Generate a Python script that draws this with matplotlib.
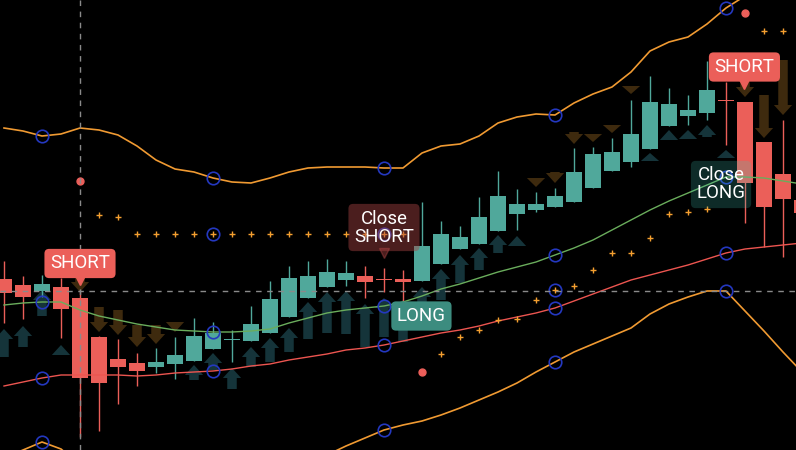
import numpy as np
import matplotlib
matplotlib.use("Agg")
import matplotlib.pyplot as plt
from matplotlib.patches import Polygon

# candles (price units), one per bar
opens  = [171, 165, 159, 163, 152, 113, 91, 87, 83, 86, 89, 101, 110, 109, 117, 133, 152, 163, 170, 174, 170.5,
          171, 169, 186, 201, 206, 219, 236, 240, 243, 248, 262, 279, 288, 301, 324, 334, 337, 349.5, 348, 308, 276, 250]
highs  = [189, 174, 175, 172, 160, 114, 111, 97, 102, 113, 132, 128, 120, 144, 169, 184, 189, 191, 189, 184, 182,
          180, 248, 229, 224, 253, 279, 261, 258, 262, 302, 303, 312, 350, 374, 362, 355, 389, 368, 348, 308, 330, 255]
lows   = [127, 131, 153, 112, 13, 19, 46, 64, 77, 71, 89, 101, 88, 109, 117, 133, 152, 163, 164, 152, 158,
          149, 169, 186, 201, 206, 219, 220, 238, 243, 248, 262, 279, 283, 301, 324, 325, 330, 305, 227, 203, 193, 230]
closes = [157, 153, 166, 141, 72, 67, 83, 79, 88, 95, 114, 117, 110.5, 126, 151, 172, 174, 178, 177, 168, 170,
          168, 204, 216, 213, 233, 254, 246, 246, 254, 278, 296, 298, 316, 348, 346, 340, 360, 349, 267, 243, 251, 237]

# indicator lines
bb_upper = [322, 319, 314, 316, 322, 320, 315, 304, 290, 281, 278, 272, 268, 267, 272, 278, 282, 283, 283, 283, 282,
            282, 297, 304, 306, 314, 327, 333, 336, 335, 347, 356, 363, 378, 399, 408, 413, 426, 442, 454, 468, 478, 485]
bb_lower = [-8, 0, 8, 1, -15, -25, -35, -40, -45, -47, -48, -47, -43, -37, -28, -20, -13, -5, 4, 12, 20,
            25, 29, 35, 42, 50, 58, 67, 78, 88, 98, 106, 114, 122, 136, 146, 153, 159, 159, 139, 119, 98, 78]
basis    = [145, 147, 148, 148, 140, 134, 130, 126, 123, 120, 119, 118, 118, 119, 121, 127, 132, 137, 140, 142, 144,
            148, 154, 161, 166, 172, 178, 183, 188, 195, 202, 210, 220, 230, 240, 249, 257, 265, 273, 273, 272, 269, 266]
slow_ma  = [64, 68, 72, 75, 75, 75, 75, 74, 75, 77, 78, 79, 81, 84, 86, 90, 93, 96, 100, 102, 105,
            109, 113, 117, 120, 124, 129, 133, 137, 142, 149, 156, 163, 170, 175, 180, 185, 191, 197, 201, 203, 205, 207]
nan = np.nan
sar = [nan, nan, nan, nan, nan, 235, 233, 216, 216, 216, 216, 216, 216, 216, 216, 216, 216, 216, 216, 216, 216,
       216, nan, 96, 113, 120, 130, 131, 150, 160, 164, 180, 197, 197, 212, 236, 238, 241, nan, nan, 419, 419, 419]
sar_flip_idx = [4, 22, 39]
sar_flip_val = [269, 78, 437]

# signal arrows: bar, tip, tail
up_idx  = [0, 1, 2, 3, 10, 11, 12, 13, 14, 15, 16, 17, 18, 19, 20, 21, 22, 23, 24, 25, 26, 27, 34, 35, 36, 37, 38]
up_tip  = [121, 124, 160, 105, 85, 97, 82, 103, 112, 122, 148, 158, 159, 146, 152, 150, 163, 181, 195, 202, 215, 214, 297, 320, 320, 325, 300]
up_tail = [93, 103, 134, 95, 70, 80, 61, 83, 88, 98, 111, 117, 116, 103, 113, 108, 130, 150, 167, 180, 197, 204, 289, 310, 311, 313, 292]
dn_idx  = [4, 5, 6, 7, 8, 9, 28, 29, 30, 31, 32, 33, 39, 40, 41]
dn_tip  = [158, 118, 115, 103, 106, 118, 263, 267, 306, 308, 317, 356, 353, 312, 335]
dn_tail = [172, 143, 140, 125, 125, 128, 272, 278, 318, 316, 325, 364, 368, 355, 390]

marker_every = 9
cross_bar, cross_price = 4, 159

UP, DOWN = "#50a89b", "#eb5f59"
bars = np.arange(len(opens))
o, h, l, c = map(np.array, (opens, highs, lows, closes))

fig = plt.figure(figsize=(7.96, 4.5), dpi=100, facecolor="black")
ax = fig.add_axes([0, 0, 1, 1])
ax.set_facecolor("black")
ax.set_xlim(-4 / 19, 792 / 19)
ax.set_ylim(0, 450)
ax.axis("off")

# arrows behind everything
def arrow(x, tip, tail, color):
    d = 1 if tip > tail else -1
    head = min(10, abs(tip - tail))
    neck = tip - d * head
    pts = [(x, tip), (x + 0.48, neck), (x + 0.25, neck), (x + 0.25, tail),
           (x - 0.25, tail), (x - 0.25, neck), (x - 0.48, neck)]
    ax.add_patch(Polygon(pts, closed=True, fc=color, ec="none", zorder=1))

for i, t, b in zip(up_idx, up_tip, up_tail):
    arrow(i, t, b, "#15343a")
for i, t, b in zip(dn_idx, dn_tip, dn_tail):
    arrow(i, t, b, "#3e2a0e")

# candles
col = np.where(c >= o, UP, DOWN)
body = np.maximum(np.abs(c - o), 1.5)
ax.vlines(bars, l, h, colors=col, lw=1, zorder=2.9)
ax.bar(bars, body, bottom=np.minimum(o, c), width=0.79, color=col, zorder=3)

# lines
ax.plot(bars, bb_upper, color="#f09a32", lw=1.2, zorder=4)
ax.plot(bars, bb_lower, color="#f09a32", lw=1.2, zorder=4)
ax.plot(bars, basis, color="#6aad5c", lw=1.0, zorder=4)
ax.plot(bars, slow_ma, color="#ec5550", lw=1.0, zorder=4)
ax.plot(bars, sar, ls="none", marker="+", ms=4, mew=1, color="#f5a030", zorder=4)
ax.plot(sar_flip_idx, sar_flip_val, ls="none", marker="o", ms=5, color="#ec5f5a", zorder=4)

# blue circles on every 9th bar
sel = bars[2::marker_every]
for s in (bb_upper, bb_lower, basis, slow_ma, sar):
    ax.plot(sel, np.array(s)[sel], ls="none", marker="o", ms=9, mfc="none",
            mec="#2438c0", mew=1.2, zorder=5)

# crosshair
ax.axvline(cross_bar, color="#8a8a8a", lw=1, ls=(0, (4, 4)), zorder=6)
ax.axhline(cross_price, color="#8a8a8a", lw=1, ls=(0, (4, 4)), zorder=6)

# trade labels
def label(x, y, txt, fc, alpha=1.0, ptr=None):
    ax.text(x, y, txt, ha="center", va="center", color="white", fontsize=13.5,
            family=["Roboto", "DejaVu Sans"], linespacing=1.0, zorder=10,
            bbox=dict(boxstyle="round,pad=0.3,rounding_size=0.25", fc=fc, ec="none", alpha=alpha))
    if ptr is not None:
        ax.plot(x, ptr, marker="v", ms=7, color=fc, alpha=alpha, ls="none", zorder=10)

label(4, 186.5, "SHORT", "#eb5f59", ptr=170)
label(20, 222.5, "Close\nSHORT", "#a84343", alpha=0.45, ptr=197)
label(21.97, 134, "LONG", "#3c8c7f")
label(37.74, 265.5, "Close\nLONG", "#40c8b8", alpha=0.22)
label(38.97, 383, "SHORT", "#eb5f59", ptr=366)

fig.savefig("out.png", dpi=100, facecolor="black")
